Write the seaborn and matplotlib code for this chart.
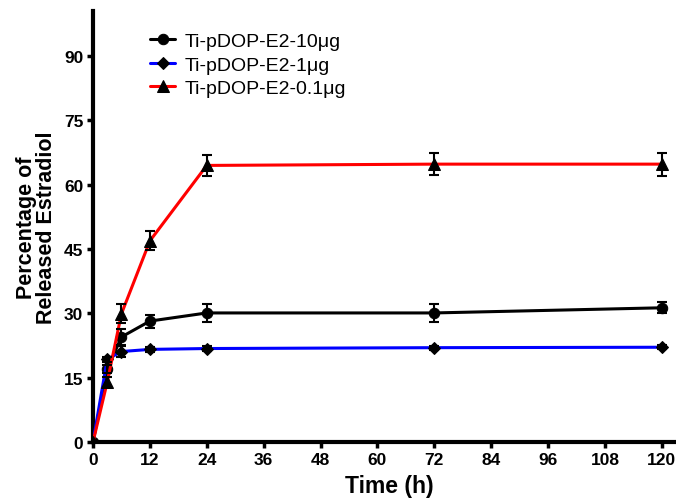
import matplotlib
matplotlib.use("Agg")
import matplotlib.pyplot as plt
import seaborn as sns
import pandas as pd
import numpy as np

time_h = [0, 3, 6, 12, 24, 72, 120]
release_10ug = [0, 17.0, 24.5, 28.2, 30.1, 30.1, 31.3]
err_10ug = [0, 1.0, 1.8, 1.5, 2.0, 2.0, 1.3]
release_1ug = [0, 19.3, 21.1, 21.6, 21.8, 22.0, 22.1]
err_1ug = [0, 0.6, 1.2, 0.5, 0.5, 0.5, 0.5]
release_01ug = [0, 14.0, 29.9, 46.9, 64.5, 64.8, 64.8]
err_01ug = [0, 1.2, 2.2, 2.2, 2.5, 2.5, 2.7]

labels = ["Ti-pDOP-E2-10μg", "Ti-pDOP-E2-1μg", "Ti-pDOP-E2-0.1μg"]
line_colors = ["black", "#0000ff", "#ff0000"]
markers = ["o", "D", "^"]
msizes = [7.5, 6, 8.5]

sns.set_style("ticks")
plt.rcParams['font.family'] = ['Liberation Sans', 'DejaVu Sans']
plt.rcParams.update({"text.color": "black", "axes.labelcolor": "black",
                     "xtick.color": "black", "ytick.color": "black"})

fig = plt.figure(figsize=(6.76, 5.02), dpi=100)
ax = fig.add_axes([0.1376, 0.1175, 0.8624, 0.8585])

series = [(release_10ug, err_10ug), (release_1ug, err_1ug), (release_01ug, err_01ug)]
for (vals, errs), lab, col, mk, ms in zip(series, labels, line_colors, markers, msizes):
    df = pd.DataFrame({"t": time_h, "v": vals})
    sns.lineplot(data=df, x="t", y="v", ax=ax, color=col, lw=2.2, marker=mk,
                 markersize=ms, markerfacecolor="black", markeredgecolor="black",
                 label=lab, zorder=3)
    ax.errorbar(time_h, vals, yerr=errs, fmt="none", ecolor="black",
                elinewidth=1.5, capsize=3.5, capthick=1.5, zorder=4)

ax.set_xlim(0, 123)
ax.set_ylim(0, 100.5)
ax.set_xticks(np.arange(0, 121, 12))
ax.set_yticks(np.arange(0, 91, 15))
for lbl in ax.get_xticklabels() + ax.get_yticklabels():
    lbl.set_fontweight("bold")
ax.tick_params(axis="both", direction="out", length=4.5, width=2.5, labelsize=12.5, pad=2.5)

for s in ["top", "right"]:
    ax.spines[s].set_visible(False)
for s in ["left", "bottom"]:
    ax.spines[s].set_linewidth(3)
    ax.spines[s].set_color("black")

ax.set_xlabel("Time (h)", fontsize=16.5, fontweight="bold")
ax.xaxis.set_label_coords(0.509, -0.075)
ax.set_ylabel("Percentage of\nReleased Estradiol", fontsize=15.5, fontweight="bold", labelpad=5,
              linespacing=0.95)

leg = ax.legend(loc="upper left", bbox_to_anchor=(0.098, 0.95), frameon=False,
                fontsize=14, handlelength=1.3, labelspacing=0.3, handletextpad=0.45,
                borderaxespad=0, borderpad=0)

fig.savefig("out.png", dpi=100)
